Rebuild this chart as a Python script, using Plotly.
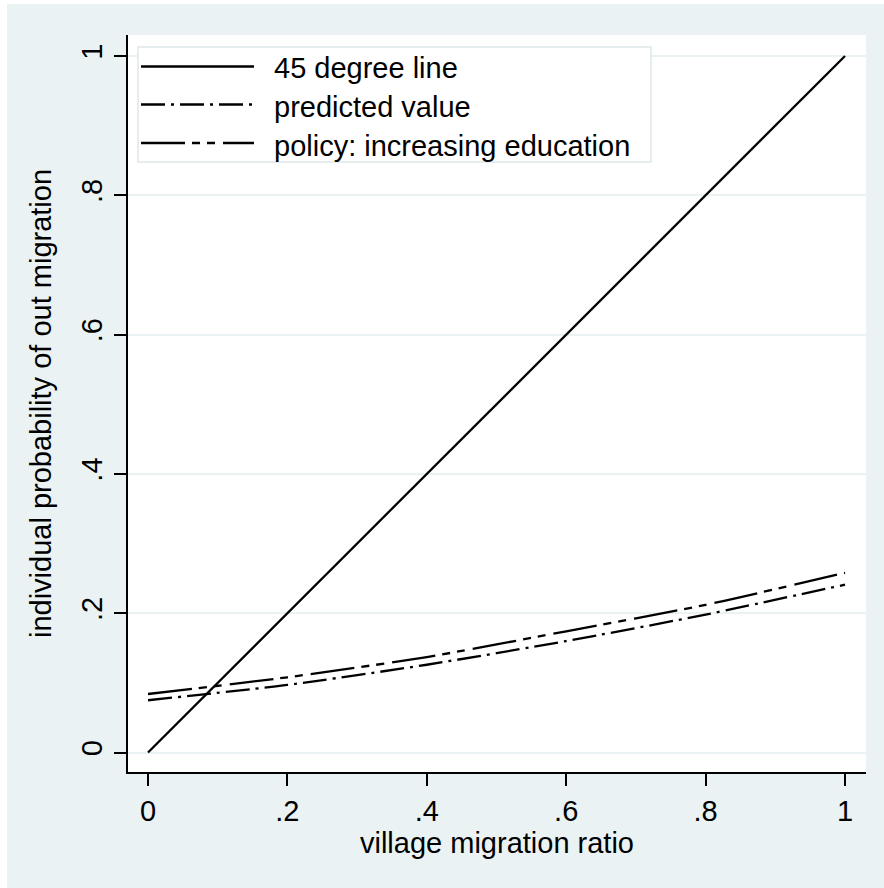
import plotly.graph_objects as go

# Figure geometry (pixels)
W, H = 884, 888
ML, MR, MT, MB = 128, 18, 35, 116

# Data
x_vals = [0, 0.2, 0.4, 0.6, 0.8, 1]
predicted = [0.075, 0.097, 0.126, 0.160, 0.198, 0.241]
policy = [0.084, 0.108, 0.137, 0.174, 0.212, 0.258]
diag_x = [0, 1]
diag_y = [0, 1]
tick_vals = [0, 0.2, 0.4, 0.6, 0.8, 1]
tick_text = ["0", ".2", ".4", ".6", ".8", "1"]
series_names = ["45 degree line", "predicted value", "policy: increasing education"]

BG = "#EAF2F3"
FONT = "Liberation Sans, Arial, sans-serif"
FS = 29
LW = 2.3
DASH_PRED = "24px,6px,3px,6px"
DASH_POLICY = "44px,7px,8px,7px,8px,8px"
dashes = ["solid", DASH_PRED, DASH_POLICY]


def px2x(px):
    return (px - ML) / (W - ML - MR)


def py2y(py):
    return (H - MB - py) / (H - MT - MB)


fig = go.Figure()
for xs, ys, name, dash in [
    (diag_x, diag_y, series_names[0], dashes[0]),
    (x_vals, predicted, series_names[1], dashes[1]),
    (x_vals, policy, series_names[2], dashes[2]),
]:
    fig.add_trace(go.Scatter(
        x=xs, y=ys, name=name, mode="lines",
        line=dict(color="black", width=LW, dash=dash, shape="spline", smoothing=0.6),
        showlegend=False,
    ))

shapes = [
    # thin white border at the left and top of the page
    dict(type="rect", xref="paper", yref="paper", x0=px2x(-2), x1=px2x(7),
         y0=py2y(H + 2), y1=py2y(-2), fillcolor="white", line=dict(width=0), layer="below"),
    dict(type="rect", xref="paper", yref="paper", x0=px2x(-2), x1=px2x(W + 2),
         y0=py2y(4), y1=py2y(-2), fillcolor="white", line=dict(width=0), layer="below"),
    # legend box
    dict(type="rect", xref="paper", yref="paper", x0=px2x(138), x1=px2x(651),
         y0=py2y(162), y1=py2y(47), fillcolor="white",
         line=dict(color="#DDE7E9", width=1.5), layer="above"),
]
annotations = []
row_line_y = [66.5, 104.5, 143]
row_text_y = [68, 107, 146]
for i, name in enumerate(series_names):
    shapes.append(dict(type="line", xref="paper", yref="paper",
                       x0=px2x(141), x1=px2x(254), y0=py2y(row_line_y[i]), y1=py2y(row_line_y[i]),
                       line=dict(color="black", width=LW, dash=dashes[i]), layer="above"))
    annotations.append(dict(text=name, xref="paper", yref="paper", x=px2x(272), y=py2y(row_text_y[i]),
                            xanchor="left", yanchor="middle", showarrow=False,
                            font=dict(family=FONT, size=FS, color="black")))

axis_common = dict(
    tickmode="array", tickvals=tick_vals, ticktext=tick_text,
    ticks="outside", ticklen=12, tickwidth=2, tickcolor="black",
    showline=True, linecolor="black", linewidth=2, zeroline=False,
    tickfont=dict(family=FONT, size=FS, color="black"),
)

fig.update_layout(
    width=W, height=H,
    margin=dict(l=ML, r=MR, t=MT, b=MB, pad=0),
    paper_bgcolor=BG, plot_bgcolor="white",
    font=dict(family=FONT, size=FS, color="black"),
    xaxis=dict(range=[-0.0287, 1.0301], showgrid=False,
               title=dict(text="village migration ratio", font=dict(family=FONT, size=FS), standoff=4),
               **axis_common),
    yaxis=dict(range=[-0.028, 1.0302], showgrid=True, gridcolor=BG, gridwidth=2,
               tickangle=-90,
               title=dict(text="individual probability of out migration", font=dict(family=FONT, size=FS), standoff=16),
               **axis_common),
    shapes=shapes,
    annotations=annotations,
    showlegend=False,
)

fig.write_html("out.html")
